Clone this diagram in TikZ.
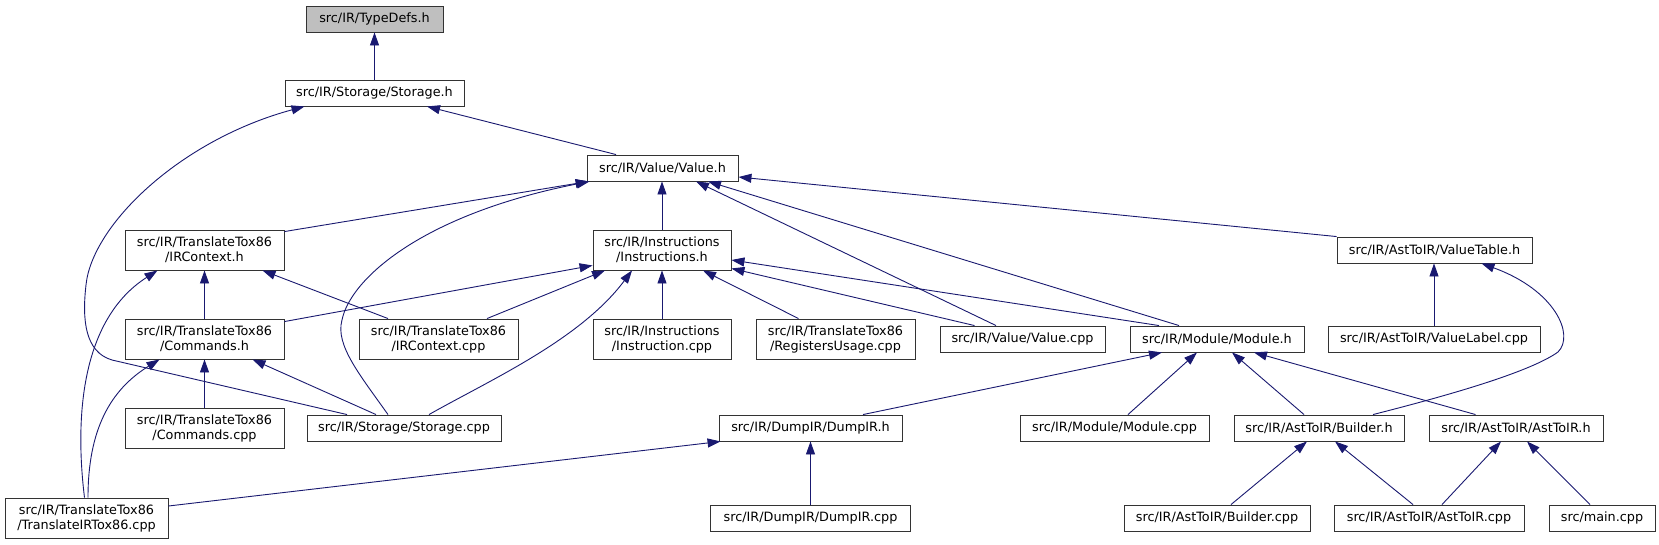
\documentclass[tikz,border=0pt]{standalone}
\usepackage{fontspec}
\newfontfamily\dejavu{DejaVu Sans}
\usetikzlibrary{arrows.meta}
\definecolor{edgecol}{HTML}{191970}
\definecolor{defgray}{HTML}{BFBFBF}
\definecolor{boxline}{HTML}{333333}
\tikzset{
  box/.style={draw=boxline, line width=0.9pt, fill=white, inner sep=0pt,
    minimum height=26pt, align=center, font=\dejavu\fontsize{12.8}{15}\selectfont},
  boxtwo/.style={box, minimum height=40pt},
  dep/.style={draw=edgecol, line width=0.9pt, -{Triangle[length=13pt,width=9pt]}},
}
\begin{document}
\begin{tikzpicture}[x=1pt,y=-1pt]
\useasboundingbox[fill=white] (0,0) rectangle (1659,544);
% nodes
\node[box, fill=defgray, minimum width=137pt] (typedefs) at (374.5,19) {src/IR/TypeDefs.h};
\node[box, minimum width=179pt] (storageh) at (374.5,93) {src/IR/Storage/Storage.h};
\node[box, minimum width=151pt] (valueh) at (662.5,168) {src/IR/Value/Value.h};
\node[boxtwo, minimum width=159pt] (ircontexth) at (204.5,250) {src/IR/TranslateTox86\\/IRContext.h};
\node[boxtwo, minimum width=138pt] (instrh) at (662,250) {src/IR/Instructions\\/Instructions.h};
\node[box, minimum width=195pt] (valuetableh) at (1434.5,250) {src/IR/AstToIR/ValueTable.h};
\node[boxtwo, minimum width=159pt] (commandsh) at (204.5,339) {src/IR/TranslateTox86\\/Commands.h};
\node[boxtwo, minimum width=159pt] (ircontextcpp) at (438.5,339) {src/IR/TranslateTox86\\/IRContext.cpp};
\node[boxtwo, minimum width=138pt] (instrcpp) at (662,339) {src/IR/Instructions\\/Instruction.cpp};
\node[boxtwo, minimum width=159pt] (regusage) at (835.5,339) {src/IR/TranslateTox86\\/RegistersUsage.cpp};
\node[box, minimum width=165pt] (valuecpp) at (1022.5,339) {src/IR/Value/Value.cpp};
\node[box, minimum width=174pt] (moduleh) at (1217,339) {src/IR/Module/Module.h};
\node[box, minimum width=212pt] (valuelabel) at (1434,339) {src/IR/AstToIR/ValueLabel.cpp};
\node[boxtwo, minimum width=159pt] (commandscpp) at (204.5,428.5) {src/IR/TranslateTox86\\/Commands.cpp};
\node[box, minimum width=194pt] (storagecpp) at (404,428) {src/IR/Storage/Storage.cpp};
\node[box, minimum width=183pt] (dumpirh) at (810.5,428) {src/IR/DumpIR/DumpIR.h};
\node[box, minimum width=189pt] (modulecpp) at (1114.5,428) {src/IR/Module/Module.cpp};
\node[box, minimum width=170pt] (builderh) at (1319,428) {src/IR/AstToIR/Builder.h};
\node[box, minimum width=174pt] (asttoirh) at (1516,428) {src/IR/AstToIR/AstToIR.h};
\node[boxtwo, minimum width=163pt] (translateir) at (86.5,518) {src/IR/TranslateTox86\\/TranslateIRTox86.cpp};
\node[box, minimum width=200pt] (dumpircpp) at (810.5,518) {src/IR/DumpIR/DumpIR.cpp};
\node[box, minimum width=186pt] (buildercpp) at (1217,518) {src/IR/AstToIR/Builder.cpp};
\node[box, minimum width=190pt] (asttoircpp) at (1429,518) {src/IR/AstToIR/AstToIR.cpp};
\node[box, minimum width=106pt] (maincpp) at (1602,518) {src/main.cpp};
% edges
\draw[dep] (storageh.north) -- (storageh.north |- typedefs.south);
\draw[dep] ([xshift=-57pt]storagecpp.north) -- (112,360) .. controls (85,352) and (82,320) .. (86,285) .. controls (92,225) and (180,140) .. ([xshift=-70pt]storageh.south);
\draw[dep] ([xshift=-46.5pt]valueh.north) -- ([xshift=52.5pt]storageh.south);
\draw[dep] ([yshift=-2pt]ircontexth.north east) -- ([xshift=2pt]valueh.south west);
\draw[dep] ([xshift=-16pt]storagecpp.north) .. controls (360,375) and (335,345) .. (342,320) .. controls (350,280) and (420,215) .. ([xshift=-73pt]valueh.south);
\draw[dep] (instrh.north) -- (instrh.north |- valueh.south);
\draw[dep] ([xshift=-26.5pt]valuecpp.north) -- ([xshift=33.5pt]valueh.south);
\draw[dep] ([xshift=-38pt]moduleh.north) -- ([xshift=45.5pt]valueh.south);
\draw[dep] (valuetableh.north west) -- ([yshift=-9pt]valueh.east);
\draw[dep] ([yshift=-3pt]commandsh.north east) -- ([yshift=5pt]instrh.south west);
\draw[dep] ([xshift=48.5pt]ircontextcpp.north) -- ([xshift=-57pt]instrh.south);
\draw[dep] ([xshift=25pt]storagecpp.north) .. controls (490,380) and (580,340) .. ([xshift=-30pt]instrh.south);
\draw[dep] (instrcpp.north) -- (instrh.south);
\draw[dep] ([xshift=-37pt]regusage.north) -- ([xshift=41pt]instrh.south);
\draw[dep] ([xshift=-48pt]valuecpp.north) -- ([yshift=2pt]instrh.south east);
\draw[dep] ([xshift=-58pt]moduleh.north) -- ([yshift=-10pt]instrh.east);
\draw[dep] (commandsh.north) -- (ircontexth.south);
\draw[dep] ([xshift=-50.5pt]ircontextcpp.north) -- ([xshift=58pt]ircontexth.south);
\draw[dep] ([xshift=-2pt]translateir.north) .. controls (75,420) and (80,320) .. ([xshift=-47pt]ircontexth.south);
\draw[dep] (commandscpp.north) -- (commandsh.south);
\draw[dep] ([xshift=-28pt]storagecpp.north) -- ([xshift=48pt]commandsh.south);
\draw[dep] ([xshift=1.5pt]translateir.north) .. controls (88,430) and (110,390) .. ([xshift=-45pt]commandsh.south);
\draw[dep] ([yshift=12pt]translateir.east) -- ([xshift=2pt]dumpirh.south west);
\draw[dep] (dumpircpp.north) -- (dumpirh.south);
\draw[dep] ([xshift=52.5pt]dumpirh.north) -- ([xshift=-55pt]moduleh.south);
\draw[dep] ([xshift=13.5pt]modulecpp.north) -- ([xshift=-20pt]moduleh.south);
\draw[dep] ([xshift=-15pt]builderh.north) -- ([xshift=15pt]moduleh.south);
\draw[dep] ([xshift=-40.5pt]asttoirh.north) -- ([xshift=37pt]moduleh.south);
\draw[dep] (valuelabel.north) -- (valuelabel.north |- valuetableh.south);
\draw[dep] ([xshift=54pt]builderh.north) .. controls (1450,395) and (1530,372) .. (1558,352) .. controls (1575,335) and (1555,290) .. ([xshift=47pt]valuetableh.south);
\draw[dep] ([xshift=14pt]buildercpp.north) -- ([xshift=-12pt]builderh.south);
\draw[dep] ([xshift=-16pt]asttoircpp.north) -- ([xshift=16pt]builderh.south);
\draw[dep] ([xshift=13pt]asttoircpp.north) -- ([xshift=-15pt]asttoirh.south);
\draw[dep] ([xshift=-12pt]maincpp.north) -- ([xshift=11pt]asttoirh.south);
\end{tikzpicture}
\end{document}
